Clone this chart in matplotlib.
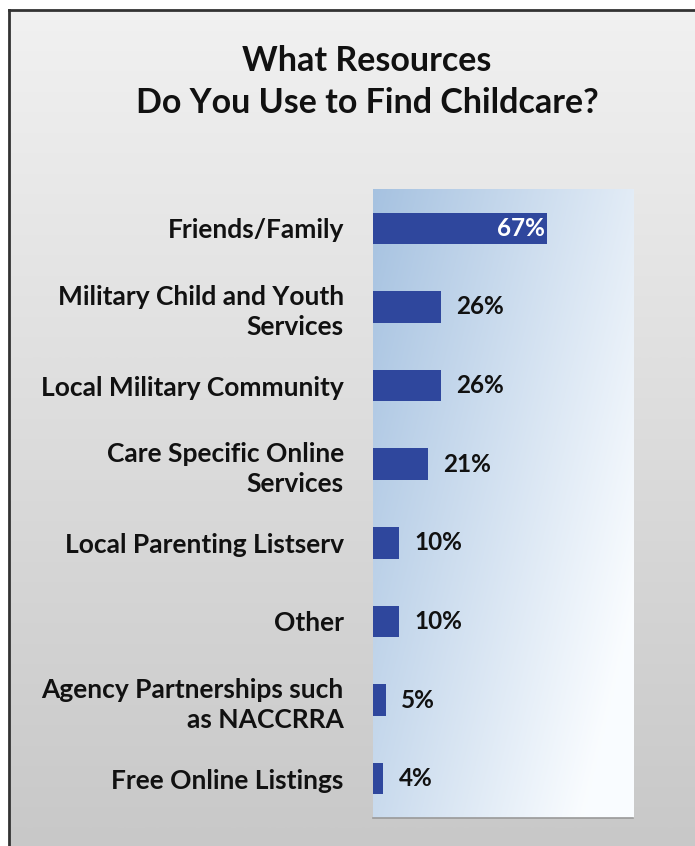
import numpy as np
import matplotlib.pyplot as plt

# survey answers, top to bottom
categories = [
    'Friends/Family',
    'Military Child and Youth\nServices',
    'Local Military Community',
    'Care Specific Online\nServices',
    'Local Parenting Listserv',
    'Other',
    'Agency Partnerships such\nas NACCRRA',
    'Free Online Listings',
]
percent = [67, 26, 26, 21, 10, 10, 5, 4]

title = 'What Resources\nDo You Use to Find Childcare?'

W, H = 695, 846
plt.rcParams['font.family'] = ['Lato', 'DejaVu Sans']
plt.rcParams['font.weight'] = 'bold'

fig = plt.figure(figsize=(W / 100, H / 100), dpi=100)
fig.patch.set_facecolor('white')

# gray slide background with a dark frame on the left and top
bg = fig.add_axes([9 / W, 0, 1 - 9 / W, 1 - 10 / H])
grad = np.linspace(0.945, 0.785, 256).reshape(-1, 1)
bg.imshow(np.dstack([grad, grad, grad]), aspect='auto', extent=[0, 1, 0, 1],
          interpolation='bicubic')
bg.set_xlim(0, 1)
bg.set_ylim(0, 1)
bg.set_xticks([])
bg.set_yticks([])
for side in ['right', 'bottom']:
    bg.spines[side].set_visible(False)
for side in ['left', 'top']:
    bg.spines[side].set_color('#333333')
    bg.spines[side].set_linewidth(2)

fig.text(367 / W, 1 - 82 / H, title, ha='center', va='center',
         fontsize=24.5, fontweight='bold', color='#111111', linespacing=1.4)

# plot area
x0, x1, y0, y1 = 373, 633, 189, 818
ax = fig.add_axes([x0 / W, 1 - y1 / H, (x1 - x0) / W, (y1 - y0) / H])

# diagonal light blue -> white fill
gx, gy = np.meshgrid(np.linspace(0, 1, 200), np.linspace(0, 1, 200))
t = np.clip(0.72 * gx + 0.42 * gy, 0, 1)
c0 = np.array([0.65, 0.76, 0.88])
c1 = np.array([0.98, 0.99, 1.0])
img = c0[None, None, :] * (1 - t[..., None]) + c1[None, None, :] * t[..., None]
ax.imshow(img, aspect='auto', extent=[0, 100, len(categories) - 0.5, -0.5],
          origin='upper', zorder=0)

y = np.arange(len(categories))
ax.barh(y, percent, height=0.4, color='#2f479d', zorder=2)
ax.set_xlim(0, 100)
ax.set_ylim(len(categories) - 0.5, -0.5)

for i, v in enumerate(percent):
    if v > 50:
        ax.text(v - 1.0, i, f'{v}%', ha='right', va='center', color='white',
                fontsize=17.5, fontweight='bold', zorder=3)
    else:
        ax.text(v + 5.8, i, f'{v}%', ha='left', va='center', color='#111111',
                fontsize=17.5, fontweight='bold', zorder=3)

ax.set_yticks(y)
ax.set_yticklabels(categories, fontsize=19, fontweight='bold', color='#111111',
                   linespacing=1.3, multialignment='right')
ax.tick_params(axis='y', length=0, pad=21)
ax.set_xticks([])
for side in ['left', 'top', 'right']:
    ax.spines[side].set_visible(False)
ax.spines['bottom'].set_color('#999999')
ax.spines['bottom'].set_linewidth(1.2)

fig.savefig('out.png', dpi=100)
